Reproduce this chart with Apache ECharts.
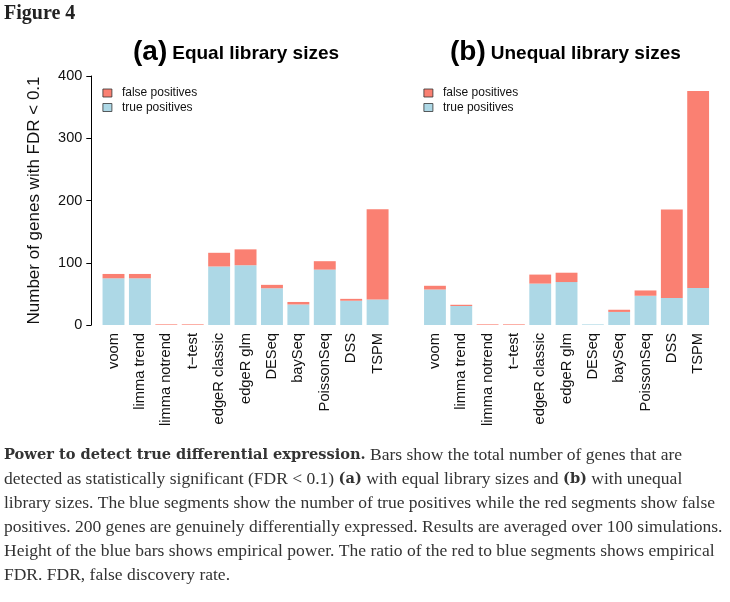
<!DOCTYPE html>
<html><head><meta charset="utf-8">
<script src="https://cdn.jsdelivr.net/npm/echarts@6/dist/echarts.min.js"></script>
<style>html,body{margin:0;padding:0;background:#fff}#c{width:730px;height:602px}</style>
</head><body><div id="c"></div>
<script>
// ---- data ----
const categories = ['voom', 'limma trend', 'limma notrend', 't\u2212test', 'edgeR classic', 'edgeR glm', 'DESeq', 'baySeq', 'PoissonSeq', 'DSS', 'TSPM'];
const trueEqual = [75, 75, 0, 0, 94, 96, 59, 33, 89, 39, 41];
const falseEqual = [7, 7, 1, 1, 22, 25.5, 5.5, 4, 13.5, 3, 145];
const trueUnequal = [57, 30.5, 0, 0, 66.5, 69, 1, 21, 47, 43.5, 59.5];
const falseUnequal = [6, 2, 1, 1, 14.5, 15, 0, 3.5, 8.5, 142, 316.5];
const yTicks = [0, 100, 200, 300, 400];
const panelTitles = [['(a)', 'Equal library sizes'], ['(b)', 'Unequal library sizes']];
const seriesNames = ['false positives', 'true positives'];
const yAxisTitle = 'Number of genes with FDR < 0.1';
const figureLabel = 'Figure 4';
const captionLines = [
  [['b', 'Power to detect true differential expression.'], ['n', ' Bars show the total number of genes that are']],
  [['n', 'detected as statistically significant (FDR < 0.1) '], ['b', '(a)'], ['n', ' with equal library sizes and '], ['b', '(b)'], ['n', ' with unequal']],
  [['n', 'library sizes. The blue segments show the number of true positives while the red segments show false']],
  [['n', 'positives. 200 genes are genuinely differentially expressed. Results are averaged over 100 simulations.']],
  [['n', 'Height of the blue bars shows empirical power. The ratio of the red to blue segments shows empirical']],
  [['n', 'FDR. FDR, false discovery rate.']]
];

// ---- chart ----
const chart = echarts.init(document.getElementById('c'), null, {renderer: 'canvas'});
const sans = '"Liberation Sans", Arial, sans-serif';
const serif = '"Liberation Serif", serif';
const serifBold = '"DejaVu Serif", serif';
const blue = '#ADD8E6', red = '#FA8072';

function bar(name, data, idx, stack, color) {
  return {type: 'bar', name: name, data: data, xAxisIndex: idx, yAxisIndex: idx, stack: stack,
    barCategoryGap: '17%', itemStyle: {color: color}, emphasis: {disabled: true}, silent: true};
}
function xAx(idx) {
  return {type: 'category', gridIndex: idx, data: categories,
    axisLine: {show: false}, axisTick: {show: false},
    axisLabel: {rotate: 90, interval: 0, margin: 8, fontFamily: sans, fontSize: 14.7, color: '#111'}};
}
const graphics = [];
graphics.push({type: 'text', left: 4, top: 4, style: {text: figureLabel, font: 'bold 20px ' + serif, fill: '#222'}});
const titleX = [133, 450];
panelTitles.forEach((t, i) => {
  graphics.push({type: 'text', left: titleX[i], top: 38, style: {
    text: '{p|' + t[0] + '}{s|' + t[1] + '}',
    rich: {p: {fontFamily: sans, fontSize: 28, fontWeight: 'bold', fill: '#000', verticalAlign: 'bottom'},
           s: {fontFamily: sans, fontSize: 19, fontWeight: 'bold', fill: '#000', padding: [0, 0, 3, 5], verticalAlign: 'bottom'}}
  }});
});
captionLines.forEach((line, i) => {
  graphics.push({type: 'text', left: 4, top: 446 + i * 24, style: {
    text: line.map(s => '{' + s[0] + '|' + s[1].replace(/[{}|]/g, '') + '}').join(''),
    rich: {b: {fontFamily: serifBold, fontSize: 14.6, fontWeight: 'bold', fill: '#333'},
           n: {fontFamily: serif, fontSize: 17.5, fill: '#333'}}
  }});
});

const option = {
  animation: false,
  backgroundColor: '#fff',
  grid: [{left: 100.3, top: 76, width: 290.5, height: 249}, {left: 421.8, top: 76, width: 289.5, height: 249}],
  xAxis: [xAx(0), xAx(1)],
  yAxis: [
    {type: 'value', gridIndex: 0, min: yTicks[0], max: yTicks[yTicks.length - 1], interval: 100, offset: 9,
      axisLine: {show: true, lineStyle: {color: '#000', width: 1}},
      axisTick: {show: true, length: 5, lineStyle: {color: '#000'}},
      axisLabel: {fontFamily: sans, fontSize: 14.5, color: '#111', margin: 9},
      splitLine: {show: false},
      name: yAxisTitle, nameLocation: 'middle', nameGap: 48,
      nameTextStyle: {fontFamily: sans, fontSize: 17, color: '#111'}},
    {type: 'value', gridIndex: 1, min: yTicks[0], max: yTicks[yTicks.length - 1], show: false, splitLine: {show: false}}
  ],
  legend: [102.5, 423.5].map(x => ({
    left: x, top: 87, padding: 0, orient: 'vertical', icon: 'rect', itemWidth: 9, itemHeight: 8, itemGap: 2.5,
    data: seriesNames, selectedMode: false,
    itemStyle: {borderColor: '#333', borderWidth: 0.8},
    textStyle: {fontFamily: sans, fontSize: 12, color: '#111', padding: [0, 0, 0, 5], lineHeight: 12}
  })),
  series: [
    bar(seriesNames[1], trueEqual, 0, 'a', blue),
    bar(seriesNames[0], falseEqual, 0, 'a', red),
    bar(seriesNames[1], trueUnequal, 1, 'b', blue),
    bar(seriesNames[0], falseUnequal, 1, 'b', red)
  ],
  graphic: graphics
};
chart.setOption(option);
</script>
</body></html>
